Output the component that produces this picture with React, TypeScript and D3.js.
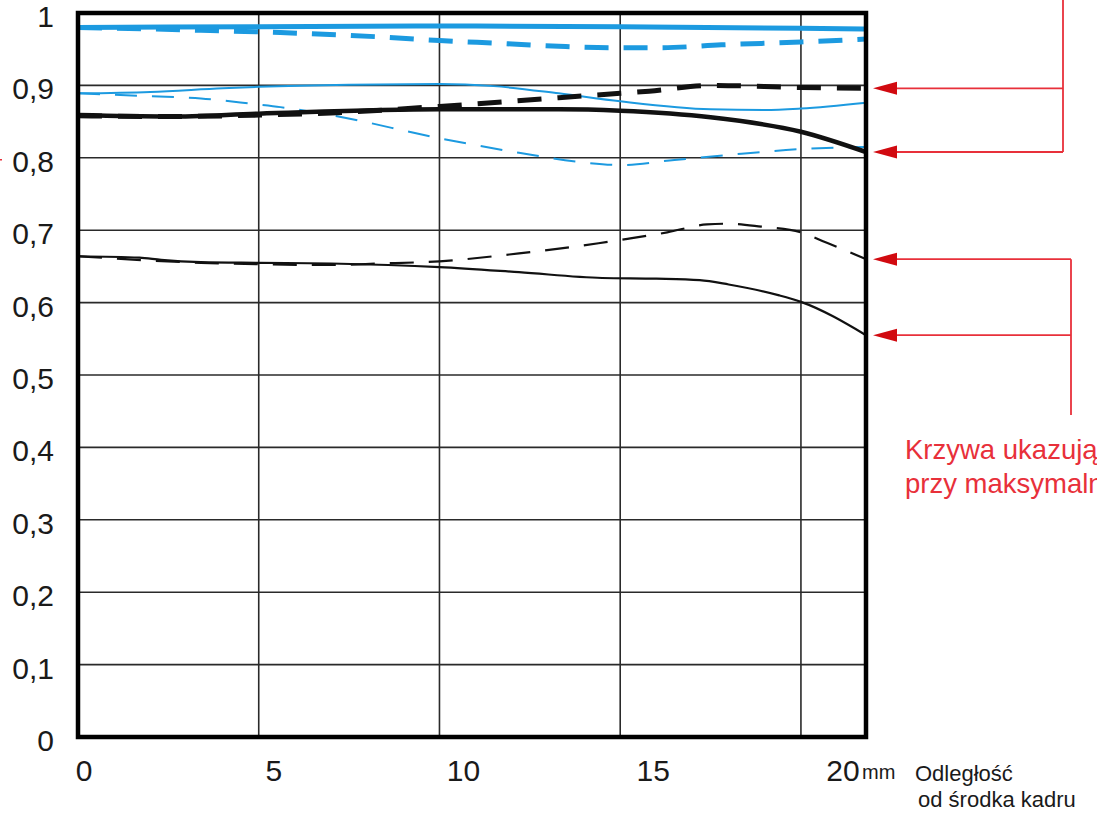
import React from "react";
import * as d3 from "d3";

// ---- Axis ticks / labels ----
const yTicks = [0, 0.1, 0.2, 0.3, 0.4, 0.5, 0.6, 0.7, 0.8, 0.9, 1];
const yTickLabels = ["0", "0,1", "0,2", "0,3", "0,4", "0,5", "0,6", "0,7", "0,8", "0,9", "1"];
const xTicks = [0, 5, 10, 15, 20];
const xTickLabels = ["0", "5", "10", "15", "20"];
const xMax = 21.8;

// ---- Series: [distance from centre (mm), MTF] ----
const blueThickSolid: [number, number][] = [
  [0, 0.98], [5, 0.981], [10, 0.982], [15, 0.981], [20, 0.979], [21.8, 0.978],
];
const blueThickDashed: [number, number][] = [
  [0, 0.98], [2, 0.978], [3.4, 0.976], [5.6, 0.973], [8.35, 0.967], [10, 0.962],
  [11.7, 0.958], [13.3, 0.954], [14.7, 0.952], [16.1, 0.952], [17.8, 0.956],
  [20, 0.96], [21.8, 0.964],
];
const blueThinSolid: [number, number][] = [
  [0, 0.889], [2, 0.891], [4, 0.896], [5, 0.898], [7.5, 0.901], [10, 0.902],
  [11.5, 0.899], [13.3, 0.889], [15, 0.878], [17.5, 0.867], [19, 0.866],
  [20, 0.868], [21.8, 0.876],
];
const blueThinDashed: [number, number][] = [
  [0, 0.889], [2, 0.885], [3.4, 0.882], [4.9, 0.874], [5.6, 0.87], [7, 0.859],
  [10, 0.827], [12.2, 0.807], [13.9, 0.794], [15, 0.79], [16.5, 0.797],
  [18, 0.804], [20, 0.812], [21.8, 0.815],
];
const blackThickSolid: [number, number][] = [
  [0, 0.859], [2.5, 0.857], [5, 0.861], [10, 0.867], [13.3, 0.867], [15, 0.865],
  [17.5, 0.856], [20, 0.836], [21.8, 0.808],
];
const blackThickDashed: [number, number][] = [
  [0, 0.858], [2.5, 0.857], [5, 0.859], [7, 0.862], [10, 0.871], [13.3, 0.883],
  [15, 0.889], [15.8, 0.892], [17.5, 0.9], [20, 0.897], [21.8, 0.896],
];
const blackThinSolid: [number, number][] = [
  [0, 0.664], [1.7, 0.662], [2.3, 0.659], [3.4, 0.656], [5, 0.655], [7, 0.654],
  [10, 0.649], [12.2, 0.642], [14.5, 0.634], [16, 0.633], [17.2, 0.631],
  [18, 0.625], [19.4, 0.61], [20, 0.601], [21.8, 0.555],
];
const blackThinDashed: [number, number][] = [
  [0, 0.664], [3.4, 0.655], [5, 0.653], [7, 0.652], [8.35, 0.654], [10, 0.657],
  [12.2, 0.668], [14.4, 0.682], [15.2, 0.688], [16.3, 0.697], [17.4, 0.708],
  [18, 0.709], [18.9, 0.705], [20, 0.697], [20.7, 0.683], [21.8, 0.66],
];

const annotationLines = ["Krzywa ukazująca charakterystykę", "przy maksymalnym otworze przysłony"];
const axisTitle = ["Odległość", "od środka kadru"];

const BLUE = "#1c9ae0";
const BLACK = "#111111";
const RED = "#e8303a";
const RED_HEAD = "#d10a10";
const FONT = "'Liberation Sans', Arial, Helvetica, sans-serif";

const W = 1097;
const H = 813;

export default function App() {
  const x = d3.scaleLinear().domain([0, xMax]).range([78, 866]);
  const y = d3.scaleLinear().domain([0, 1]).range([737, 13]);
  const xLabel = d3.scaleLinear().domain([0, 20]).range([84, 843]);

  const line = d3
    .line<[number, number]>()
    .x((d) => x(d[0]))
    .y((d) => y(d[1]))
    .curve(d3.curveMonotoneX);

  const series = [
    { data: blueThickDashed, color: BLUE, width: 5, dash: "24 15" },
    { data: blueThickSolid, color: BLUE, width: 5, dash: undefined },
    { data: blueThinDashed, color: BLUE, width: 2, dash: "22 15" },
    { data: blueThinSolid, color: BLUE, width: 2, dash: undefined },
    { data: blackThinDashed, color: BLACK, width: 2.2, dash: "24 15" },
    { data: blackThinSolid, color: BLACK, width: 2.2, dash: undefined },
    { data: blackThickSolid, color: BLACK, width: 4.5, dash: undefined },
    { data: blackThickDashed, color: BLACK, width: 5, dash: "24 16" },
  ];

  const last = (s: [number, number][]) => s[s.length - 1][1];
  const arrowTip = x(xMax) + 7;
  const arrowBase = arrowTip + 24;
  const topGroup = { xv: 1063, top: 0, ys: [y(last(blackThickDashed)), y(last(blackThickSolid))] };
  const botGroup = { xv: 1071, bottom: 415, ys: [y(last(blackThinDashed)), y(last(blackThinSolid))] };

  const arrow = (yy: number, xv: number, key: string) => (
    <g key={key}>
      <line x1={arrowBase - 2} x2={xv} y1={yy} y2={yy} stroke={RED} strokeWidth={1.8} />
      <polygon
        points={`${arrowTip},${yy} ${arrowBase},${yy - 6.5} ${arrowBase},${yy + 6.5}`}
        fill={RED_HEAD}
      />
    </g>
  );

  return (
    <svg
      width={W}
      height={H}
      style={{ position: "absolute", left: 0, top: 0, background: "#fff" }}
      fontFamily={FONT}
    >
      <rect x={0} y={0} width={W} height={H} fill="#fff" />
      {/* grid */}
      {yTicks.slice(1, -1).map((t) => (
        <line key={"gy" + t} x1={x(0)} x2={x(xMax)} y1={y(t)} y2={y(t)} stroke="#2a2a2a" strokeWidth={1.6} />
      ))}
      {xTicks.slice(1).map((t) => (
        <line key={"gx" + t} x1={x(t)} x2={x(t)} y1={y(0)} y2={y(1)} stroke="#2a2a2a" strokeWidth={1.6} />
      ))}

      {/* curves */}
      {series.map((s, i) => (
        <path
          key={"s" + i}
          d={line(s.data) || ""}
          fill="none"
          stroke={s.color}
          strokeWidth={s.width}
          strokeDasharray={s.dash}
          strokeLinejoin="round"
        />
      ))}

      {/* frame */}
      <rect
        x={x(0)}
        y={y(1)}
        width={x(xMax) - x(0)}
        height={y(0) - y(1)}
        fill="none"
        stroke="#000"
        strokeWidth={4.5}
      />

      {/* y labels */}
      {yTicks.map((t, i) => (
        <text key={"yl" + t} x={54} y={y(t) + 14} textAnchor="end" fontSize={30} fill="#1a1a1a">
          {yTickLabels[i]}
        </text>
      ))}

      {/* x labels */}
      {xTicks.map((t, i) => (
        <text key={"xl" + t} x={xLabel(t)} y={781} textAnchor="middle" fontSize={30} fill="#1a1a1a">
          {xTickLabels[i]}
        </text>
      ))}
      <text x={xLabel(20) + 19} y={779} fontSize={20} fill="#1a1a1a">
        mm
      </text>
      <text x={915} y={781} fontSize={22} fill="#1a1a1a">
        {axisTitle[0]}
      </text>
      <text x={918} y={807} fontSize={22} fill="#1a1a1a">
        {axisTitle[1]}
      </text>

      {/* red annotation */}
      <line x1={topGroup.xv} x2={topGroup.xv} y1={topGroup.top} y2={topGroup.ys[1]} stroke={RED} strokeWidth={1.8} />
      {topGroup.ys.map((yy, i) => arrow(yy, topGroup.xv, "ta" + i))}
      <line x1={botGroup.xv} x2={botGroup.xv} y1={botGroup.ys[0]} y2={botGroup.bottom} stroke={RED} strokeWidth={1.8} />
      {botGroup.ys.map((yy, i) => arrow(yy, botGroup.xv, "ba" + i))}
      <text x={905} y={459} fontSize={27.5} fill={RED}>
        {annotationLines[0]}
      </text>
      <text x={905} y={493} fontSize={27.5} fill={RED}>
        {annotationLines[1]}
      </text>
      <line x1={0} x2={2} y1={y(0.8) + 2} y2={y(0.8) + 2} stroke={RED} strokeWidth={1.5} />
    </svg>
  );
}
